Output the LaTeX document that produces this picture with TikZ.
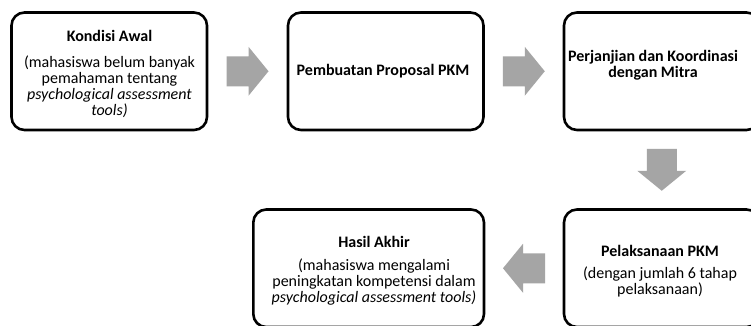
\documentclass[tikz,border=0pt]{standalone}
\usepackage{fontspec}
\setmainfont{Carlito}
\usetikzlibrary{calc}
\definecolor{arrowgray}{HTML}{A5A5A5}
\tikzset{
  stagebox/.style={draw=black, line width=2.6pt, rounded corners=13pt,
    minimum width=195.5pt, minimum height=117.5pt, inner sep=0pt},
  stagetext/.style={inner sep=0pt, align=center, font=\fontsize{16}{16}\selectfont},
  blockarrow/.style={fill=arrowgray}
}
\newcommand\flowarrow[2]{%
  \fill[blockarrow, shift={#1}, rotate=#2]
    (-21,-15) -- (1,-15) -- (1,-24.5) -- (21,0) -- (1,24.5) -- (1,15) -- (-21,15) -- cycle;}
\begin{document}
\begin{tikzpicture}[x=1pt, y=-1pt]
\useasboundingbox (0,0) rectangle (751,325);
\fill[white] (0,0) rectangle (751,325);
\clip (0,0) rectangle (751,325);
% boxes
\node[stagebox] (b1) at (109.25,71.25) {};
\node[stagebox] (b2) at (385.75,71.25) {};
\node[stagebox] (b3) at (661.75,71.25) {};
\node[stagebox] (b4) at (661.75,268.25) {};
\node[stagebox, minimum width=230.7pt] (b5) at (368.65,268.25) {};
% texts
\node[stagetext] (t1) at (109.5,73.5) {\textbf{Kondisi Awal}\\[10pt](mahasiswa belum banyak\\pemahaman tentang\\\textit{psychological assessment}\\\textit{tools)}};
\node[stagetext] (t2) at (383,71.5) {\textbf{Pembuatan Proposal PKM}};
\node[stagetext] (t3) at (653,65) {\textbf{Perjanjian dan Koordinasi}\\\textbf{dengan Mitra}};
\node[stagetext] (t4) at (660,271) {\textbf{Pelaksanaan PKM}\\[6pt](dengan jumlah 6 tahap\\pelaksanaan)};
\node[stagetext] (t5) at (374,270.5) {\textbf{Hasil Akhir}\\[7pt](mahasiswa mengalami\\peningkatan kompetensi dalam\\\textit{psychological assessment tools)}};
% block arrows
\flowarrow{($(b1.east)!0.5!(b2.west)$)}{0}
\flowarrow{($(b2.east)!0.5!(b3.west)$)}{0}
\flowarrow{($(b3.south)!0.5!(b4.north)$)}{-90}
\flowarrow{($(b5.east)!0.5!(b4.west)$)}{180}
\end{tikzpicture}
\end{document}
